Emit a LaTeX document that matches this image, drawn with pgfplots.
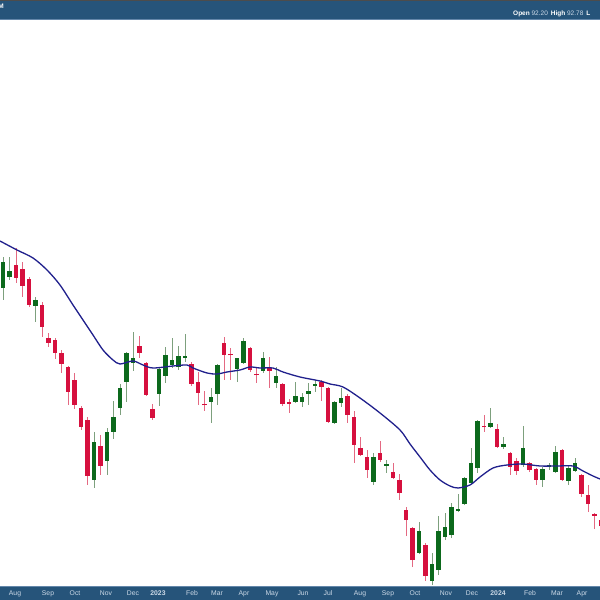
\documentclass[border=0pt]{standalone}
\usepackage{pgfplots}
\pgfplotsset{compat=1.18}
\usepackage{pgfplotstable}
\usepackage{fontspec}
\setmainfont{Liberation Sans}
\definecolor{barblue}{RGB}{38,84,122}
\definecolor{barline}{RGB}{100,135,170}
\definecolor{upbody}{RGB}{12,105,28}
\definecolor{downbody}{RGB}{214,16,62}
\definecolor{upwick}{RGB}{125,160,125}
\definecolor{downwick}{RGB}{228,105,130}
\definecolor{maline}{RGB}{32,32,140}
\definecolor{lbl}{RGB}{205,218,232}

% pixel-style values (y measured downward from top of chart)
\pgfplotstableread{
i o h l c
1 288 257 300 262
2 277 257 280 271
6 306 297 322 300
15 480 432 488 442
17 461 428 475 432
18 432 401 439 417
19 408 384 415 388
20 382 352 402 353
21 363 332 371 358
25 394 368 406 369
26 376 347 383 355
27 365 338 368 360
28 367 346 370 356
29 358 334 362 356
33 402 388 423 397
34 394 364 405 365
37 369 358 382 358
38 363 338 364 341
41 371 352 373 358
43 383 367 388 376
46 402 382 403 396
47 402 393 407 397
48 394 383 405 391
49 386 380 392 384
52 423 401 424 402
53 403 388 407 398
58 482 453 485 457
60 466 460 473 464.5
65 553 522 554 531
67 581 553 585 564
68 570 516 575 531
69 537 513 540 527
70 535 503 538 507
71 511 494 512 509
72 504 477 505 478
73 483 448 484 463
74 468 420 473 421
76 427 408 428 423
78 447 437 449 444
81 465 426 467 448
84 480 467 487 469
85 467 463 470 465
86 472 446 473 452
88 481 465 485 468
89 471 458 472 463
}\upt
\pgfplotstableread{
i o h l c
3 265 248 283 278
4 269 262 297 286
5 279 277 307 305
7 305 302 337 327
8 338 333 347 343
9 340 338 359 353
10 353 350 373 364
11 367 366 405 392
12 380 373 409 405
13 408 406 430 427
14 420 417 485 476
16 446 435 475 466
22 346 336 358 353
23 363 362 396 395
24 409 404 420 418
30 364 362 386 384
31 382 372 405 393
32 404 391 411 405.5
35 343 337 380 355
36 354 348 380 355.5
39 348 347 372 370
40 374 368 383 375.5
42 368 357 388 371
44 384 383 406 404
45 402 399 413 404
50 382 380 401 387
51 388 387 423 422
54 396 394 423 415
55 417 411 463 445
56 448 437 456 455
57 457 450 478 470
59 453 441 462 460
61 472 463 479 478
62 480 474 500 493
63 510 507 536 520
64 528 527 567 560
66 545 543 581 576
75 426 415 432 427.5
77 429 424 448 447
79 453 452 475 467
80 461 458 475 471
82 463 462 472 470
83 469 468 485 480
87 450 449 481 480
90 475 474 497 494
91 495 485 512 504
92 514 513 529 515.5
93 520 518 530 526
}\downt
\pgfplotstableread{
x y
0 241
17 250
33 258
47 270
60 285
73 305
83 320
93 335
103 350
113 360
120 364
133 361
143 365
153 368
173 366
187 365
193 368
207 373
217 374
227 372
240 370
250 367
260 368
273 368
283 372
300 377
320 381
330 384
343 387
360 398
380 413
400 430
410 444
420 457
430 470
440 480
450 486
458 488
470 485
480 477
493 468
507 465
523 464
540 466
557 466
573 466
583 471
593 476
600 479
}\mat

\begin{document}
\begin{tikzpicture}[x=1pt,y=1pt]
\fill[barblue] (0,0) rectangle (600,13);
\draw[barline,line width=0.8pt] (0,13.4)--(600,13.4);
\begin{axis}[at={(0,0)},anchor=south west,scale only axis,
  width=600pt,height=600pt,xmin=0,xmax=600,ymin=0,ymax=600,
  axis line style={draw=none},ytick=\empty,major tick length=0pt,
  xtick={15,48,75,106,133,158,192,217,244,272,303,328,360,388,415,446,472,498,530,557,582},
  xticklabels={Aug,Sep,Oct,Nov,Dec,\textbf{2023},Feb,Mar,Apr,May,Jun,Jul,Aug,Sep,Oct,Nov,Dec,\textbf{2024},Feb,Mar,Apr},
  xticklabel style={anchor=center,yshift=6.5pt,text=lbl,font=\fontsize{6.8}{7}\selectfont},
  clip=true]
% wicks
\addplot[draw=none,mark=none,error bars/.cd,y dir=plus,y explicit,error mark=none,
  error bar style={line width=1pt,draw=upwick}]
  table[x expr=3+6.5*(\thisrow{i}-1),y expr=600-\thisrow{l},y error expr=\thisrow{l}-\thisrow{h}]{\upt};
\addplot[draw=none,mark=none,error bars/.cd,y dir=plus,y explicit,error mark=none,
  error bar style={line width=1pt,draw=downwick}]
  table[x expr=3+6.5*(\thisrow{i}-1),y expr=600-\thisrow{l},y error expr=\thisrow{l}-\thisrow{h}]{\downt};
% bodies
\addplot[draw=none,mark=none,error bars/.cd,y dir=plus,y explicit,error mark=none,
  error bar style={line width=4.6pt,draw=upbody}]
  table[x expr=3+6.5*(\thisrow{i}-1),y expr=600-\thisrow{o},y error expr=\thisrow{o}-\thisrow{c}]{\upt};
\addplot[draw=none,mark=none,error bars/.cd,y dir=plus,y explicit,error mark=none,
  error bar style={line width=4.6pt,draw=downbody}]
  table[x expr=3+6.5*(\thisrow{i}-1),y expr=600-\thisrow{c},y error expr=\thisrow{c}-\thisrow{o}]{\downt};
% moving average
\addplot[maline,line width=1.3pt,smooth,mark=none] table[x=x,y expr=600-\thisrow{y}]{\mat};
\end{axis}
\fill[barblue] (0,581) rectangle (600,600);
\draw[barline,line width=0.8pt] (0,580.6)--(600,580.6);
\draw[black!70,line width=0.6pt] (0,599.7)--(600,599.7);
\node[anchor=west,inner sep=0pt,text=white,font=\fontsize{6.5}{7}\selectfont] at (513,586)
  {\textbf{Open} \textcolor{lbl}{92.20}\hspace{3pt}\textbf{High} \textcolor{lbl}{92.78}\hspace{3pt}\textbf{L}};
\node[anchor=east,inner sep=0pt,text=white,font=\fontsize{6.5}{7}\selectfont] at (4,594) {\textbf{M}};
\pgfresetboundingbox
\path[use as bounding box] (0,0) rectangle (600,600);
\end{tikzpicture}
\end{document}
